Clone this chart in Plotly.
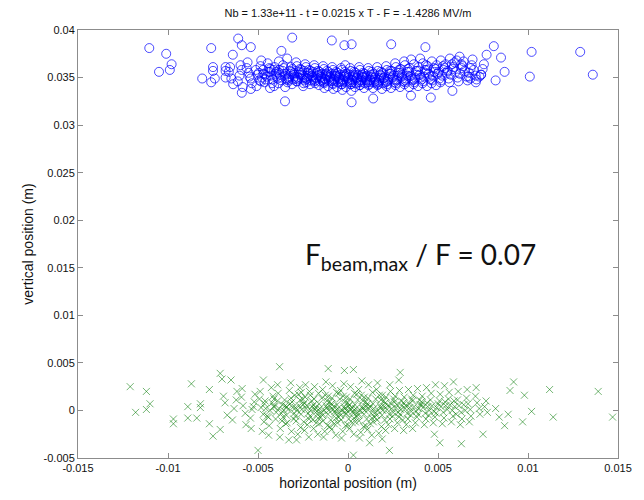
import plotly.graph_objects as go

title_text = "Nb = 1.33e+11 - t = 0.0215 x T - F = -1.4286 MV/m"
x_label = "horizontal position (m)"
y_label = "vertical position (m)"
ratio_text = "F<sub>beam,max</sub> / F = 0.07"

x_tickvals = [-0.015, -0.01, -0.005, 0, 0.005, 0.01, 0.015]
x_ticktext = ["-0.015", "-0.01", "-0.005", "0", "0.005", "0.01", "0.015"]
y_tickvals = [-0.005, 0, 0.005, 0.01, 0.015, 0.02, 0.025, 0.03, 0.035, 0.04]
y_ticktext = ["-0.005", "0", "0.005", "0.01", "0.015", "0.02", "0.025", "0.03", "0.035", "0.04"]

# upper bunch (blue circles), (x, y) in metres
blue_points = [
    # outliers
    (-0.01104, 0.0381), (-0.0101, 0.0375), (-0.0098, 0.0364), (-0.0099, 0.0358), (-0.0105, 0.0356),
    (-0.0076, 0.0381), (-0.0081, 0.0349), (-0.0076, 0.0345), (-0.0074, 0.0349), (-0.0075, 0.0361),
    (-0.0075, 0.0357), (-0.0068, 0.0361), (-0.0068, 0.0357), (-0.0068, 0.0350), (-0.0064, 0.0374),
    (-0.0061, 0.0391), (-0.0059, 0.0384), (-0.0054, 0.0382), (-0.0059, 0.0334), (-0.0054, 0.0338),
    (-0.0035, 0.0325), (-0.0031, 0.0392), (-0.0037, 0.0378), (-0.0009, 0.0389), (-0.0002, 0.0384),
    (0.0002, 0.0385), (0.0024, 0.0385), (0.0043, 0.0382), (0.0081, 0.0383), (0.0077, 0.0374),
    (0.0085, 0.0371), (0.0087, 0.0356), (0.0082, 0.0347), (0.0102, 0.0377), (0.0101, 0.0351),
    (0.0129, 0.0377), (0.0136, 0.0353), (0.0074, 0.0353), (0.0073, 0.0351), (0.0071, 0.0345),
    (0.0067, 0.0351), (0.0068, 0.0349), (0.0002, 0.0324), (0.0014, 0.0328), (0.0035, 0.0331),
    (0.0046, 0.0329), (0.0058, 0.0336), (0.0062, 0.0372), (0.0063, 0.0364),
    # core
    (-0.00662, 0.0356), (-0.00648, 0.0349), (-0.00655, 0.0361), (-0.00638, 0.0343),
    (-0.00603, 0.0352), (-0.00591, 0.0358), (-0.00612, 0.0346), (-0.00597, 0.0363), (-0.00585, 0.0340),
    (-0.00552, 0.0355), (-0.00541, 0.0349), (-0.00563, 0.0360), (-0.00534, 0.0344), (-0.00558, 0.0366),
    (-0.00547, 0.0351),
    (-0.00503, 0.0353), (-0.00491, 0.0347), (-0.00512, 0.0358), (-0.00486, 0.0362), (-0.00508, 0.0341),
    (-0.00495, 0.0355), (-0.00482, 0.0368),
    (-0.00452, 0.0351), (-0.00441, 0.0356), (-0.00463, 0.0345), (-0.00437, 0.0360), (-0.00458, 0.0348),
    (-0.00446, 0.0365), (-0.00433, 0.0339), (-0.00461, 0.0353),
    (-0.00402, 0.0354), (-0.00391, 0.0349), (-0.00413, 0.0358), (-0.00386, 0.0344), (-0.00408, 0.0361),
    (-0.00396, 0.0351), (-0.00384, 0.0367), (-0.00411, 0.0341), (-0.00399, 0.0356),
    (-0.00352, 0.0352), (-0.00341, 0.0348), (-0.00363, 0.0357), (-0.00336, 0.0345), (-0.00358, 0.0360),
    (-0.00346, 0.0354), (-0.00334, 0.0350), (-0.00361, 0.0363), (-0.00349, 0.0340), (-0.00338, 0.0370),
    (-0.00302, 0.0353), (-0.00291, 0.0349), (-0.00313, 0.0356), (-0.00286, 0.0346), (-0.00308, 0.0359),
    (-0.00296, 0.0351), (-0.00284, 0.0362), (-0.00311, 0.0343), (-0.00299, 0.0355), (-0.00288, 0.0366),
    (-0.00306, 0.0348),
    (-0.00252, 0.0352), (-0.00241, 0.0347), (-0.00263, 0.0355), (-0.00236, 0.0350), (-0.00258, 0.0358),
    (-0.00246, 0.0344), (-0.00234, 0.0361), (-0.00261, 0.0353), (-0.00249, 0.0341), (-0.00238, 0.0364),
    (-0.00256, 0.0349), (-0.00243, 0.0357),
    (-0.00202, 0.0351), (-0.00191, 0.0348), (-0.00213, 0.0354), (-0.00186, 0.0346), (-0.00208, 0.0357),
    (-0.00196, 0.0350), (-0.00184, 0.0360), (-0.00211, 0.0343), (-0.00199, 0.0352), (-0.00188, 0.0363),
    (-0.00206, 0.0347), (-0.00193, 0.0356),
    (-0.00152, 0.0350), (-0.00141, 0.0347), (-0.00163, 0.0353), (-0.00136, 0.0345), (-0.00158, 0.0356),
    (-0.00146, 0.0349), (-0.00134, 0.0359), (-0.00161, 0.0342), (-0.00149, 0.0351), (-0.00138, 0.0362),
    (-0.00156, 0.0346), (-0.00143, 0.0354), (-0.00131, 0.0339),
    (-0.00102, 0.0350), (-0.00091, 0.0346), (-0.00113, 0.0353), (-0.00086, 0.0344), (-0.00108, 0.0356),
    (-0.00096, 0.0348), (-0.00084, 0.0358), (-0.00111, 0.0341), (-0.00099, 0.0351), (-0.00088, 0.0361),
    (-0.00106, 0.0347), (-0.00093, 0.0354), (-0.00081, 0.0338),
    (-0.00052, 0.0349), (-0.00041, 0.0346), (-0.00063, 0.0352), (-0.00036, 0.0343), (-0.00058, 0.0355),
    (-0.00046, 0.0348), (-0.00034, 0.0358), (-0.00061, 0.0340), (-0.00049, 0.0350), (-0.00038, 0.0360),
    (-0.00056, 0.0345), (-0.00043, 0.0353), (-0.00031, 0.0337),
    (-0.00002, 0.0349), (0.00009, 0.0345), (-0.00013, 0.0352), (0.00014, 0.0343), (-0.00008, 0.0354),
    (0.00004, 0.0347), (0.00016, 0.0357), (-0.00011, 0.0340), (0.00001, 0.0350), (0.00012, 0.0360),
    (-0.00006, 0.0346), (0.00007, 0.0353), (0.00019, 0.0336), (-0.00015, 0.0363),
    (0.00048, 0.0349), (0.00059, 0.0345), (0.00037, 0.0352), (0.00064, 0.0342), (0.00042, 0.0355),
    (0.00054, 0.0347), (0.00066, 0.0358), (0.00039, 0.0340), (0.00051, 0.0350), (0.00062, 0.0361),
    (0.00044, 0.0344), (0.00057, 0.0353),
    (0.00098, 0.0348), (0.00109, 0.0345), (0.00087, 0.0351), (0.00114, 0.0342), (0.00092, 0.0354),
    (0.00104, 0.0347), (0.00116, 0.0357), (0.00089, 0.0339), (0.00101, 0.0350), (0.00112, 0.0360),
    (0.00094, 0.0344), (0.00107, 0.0352),
    (0.00148, 0.0348), (0.00159, 0.0344), (0.00137, 0.0351), (0.00164, 0.0342), (0.00142, 0.0354),
    (0.00154, 0.0346), (0.00166, 0.0357), (0.00139, 0.0339), (0.00151, 0.0350), (0.00162, 0.0361),
    (0.00144, 0.0345),
    (0.00198, 0.0349), (0.00209, 0.0345), (0.00187, 0.0352), (0.00214, 0.0341), (0.00192, 0.0355),
    (0.00204, 0.0347), (0.00216, 0.0358), (0.00189, 0.0338), (0.00201, 0.0350), (0.00212, 0.0362),
    (0.00194, 0.0344),
    (0.00248, 0.0350), (0.00259, 0.0345), (0.00237, 0.0354), (0.00264, 0.0342), (0.00242, 0.0357),
    (0.00254, 0.0348), (0.00266, 0.0361), (0.00239, 0.0339), (0.00251, 0.0352), (0.00262, 0.0365),
    (0.00298, 0.0351), (0.00309, 0.0346), (0.00287, 0.0355), (0.00314, 0.0343), (0.00292, 0.0359),
    (0.00304, 0.0349), (0.00316, 0.0363), (0.00289, 0.0340), (0.00301, 0.0353), (0.00312, 0.0367),
    (0.00348, 0.0352), (0.00359, 0.0347), (0.00337, 0.0356), (0.00364, 0.0343), (0.00342, 0.0360),
    (0.00354, 0.0349), (0.00366, 0.0364), (0.00339, 0.0340), (0.00351, 0.0369),
    (0.00398, 0.0353), (0.00409, 0.0348), (0.00387, 0.0357), (0.00414, 0.0344), (0.00392, 0.0361),
    (0.00404, 0.0350), (0.00416, 0.0365), (0.00389, 0.0341), (0.00401, 0.0370),
    (0.00448, 0.0354), (0.00459, 0.0348), (0.00437, 0.0358), (0.00464, 0.0344), (0.00442, 0.0362),
    (0.00454, 0.0351), (0.00466, 0.0367), (0.00439, 0.0341),
    (0.00498, 0.0354), (0.00509, 0.0349), (0.00487, 0.0359), (0.00514, 0.0345), (0.00492, 0.0363),
    (0.00504, 0.0356), (0.00516, 0.0368), (0.00489, 0.0342),
    (0.00548, 0.0355), (0.00559, 0.0349), (0.00537, 0.0360), (0.00564, 0.0345), (0.00542, 0.0364),
    (0.00554, 0.0357), (0.00566, 0.0370),
    (0.00598, 0.0356), (0.00609, 0.0350), (0.00587, 0.0361), (0.00614, 0.0346), (0.00592, 0.0366),
    (0.00604, 0.0368),
    (0.00648, 0.0357), (0.00659, 0.0351), (0.00637, 0.0362), (0.00664, 0.0347), (0.00642, 0.0367),
    (0.00698, 0.0358), (0.00709, 0.0352), (0.00687, 0.0363), (0.00714, 0.0348), (0.00692, 0.0369),
    (0.00748, 0.0359), (0.00739, 0.0353), (0.00755, 0.0364),
    # dense centre
    (-0.00478, 0.0350), (-0.00469, 0.0354), (-0.00483, 0.0346), (-0.00472, 0.0358),
    (-0.00428, 0.0352), (-0.00419, 0.0348), (-0.00433, 0.0356), (-0.00422, 0.0344), (-0.00431, 0.0359),
    (-0.00378, 0.0353), (-0.00369, 0.0347), (-0.00383, 0.0355), (-0.00372, 0.0350), (-0.00381, 0.0358),
    (-0.00328, 0.0351), (-0.00319, 0.0354), (-0.00333, 0.0347), (-0.00322, 0.0357), (-0.00331, 0.0349),
    (-0.00317, 0.0361),
    (-0.00278, 0.0350), (-0.00269, 0.0353), (-0.00283, 0.0346), (-0.00272, 0.0356), (-0.00281, 0.0348),
    (-0.00267, 0.0359),
    (-0.00228, 0.0349), (-0.00219, 0.0352), (-0.00233, 0.0345), (-0.00222, 0.0355), (-0.00231, 0.0348),
    (-0.00217, 0.0358), (-0.00226, 0.0351),
    (-0.00178, 0.0349), (-0.00169, 0.0352), (-0.00183, 0.0344), (-0.00172, 0.0355), (-0.00181, 0.0347),
    (-0.00167, 0.0357), (-0.00176, 0.0350),
    (-0.00128, 0.0348), (-0.00119, 0.0351), (-0.00133, 0.0344), (-0.00122, 0.0354), (-0.00131, 0.0346),
    (-0.00117, 0.0357), (-0.00126, 0.0349), (-0.00121, 0.0352),
    (-0.00078, 0.0348), (-0.00069, 0.0351), (-0.00083, 0.0343), (-0.00072, 0.0354), (-0.00081, 0.0346),
    (-0.00067, 0.0356), (-0.00076, 0.0349), (-0.00071, 0.0352),
    (-0.00028, 0.0347), (-0.00019, 0.0351), (-0.00033, 0.0343), (-0.00022, 0.0353), (-0.00031, 0.0345),
    (-0.00017, 0.0356), (-0.00026, 0.0348), (-0.00021, 0.0351),
    (0.00022, 0.0347), (0.00031, 0.0350), (0.00017, 0.0343), (0.00028, 0.0353), (0.00019, 0.0345),
    (0.00033, 0.0356), (0.00024, 0.0348), (0.00029, 0.0351),
    (0.00072, 0.0347), (0.00081, 0.0350), (0.00067, 0.0342), (0.00078, 0.0353), (0.00069, 0.0345),
    (0.00083, 0.0355), (0.00074, 0.0348), (0.00079, 0.0351),
    (0.00122, 0.0347), (0.00131, 0.0350), (0.00117, 0.0343), (0.00128, 0.0353), (0.00119, 0.0345),
    (0.00133, 0.0356), (0.00124, 0.0348),
    (0.00172, 0.0347), (0.00181, 0.0350), (0.00167, 0.0343), (0.00178, 0.0353), (0.00169, 0.0345),
    (0.00183, 0.0356), (0.00174, 0.0349),
    (0.00222, 0.0348), (0.00231, 0.0351), (0.00217, 0.0343), (0.00228, 0.0354), (0.00219, 0.0346),
    (0.00233, 0.0357),
    (0.00272, 0.0348), (0.00281, 0.0352), (0.00267, 0.0344), (0.00278, 0.0355), (0.00269, 0.0347),
    (0.00283, 0.0358),
    (0.00322, 0.0349), (0.00331, 0.0352), (0.00317, 0.0345), (0.00328, 0.0356), (0.00319, 0.0347),
    (0.00333, 0.0359),
    (0.00372, 0.0350), (0.00381, 0.0353), (0.00367, 0.0345), (0.00378, 0.0357), (0.00369, 0.0348),
    (0.00422, 0.0351), (0.00431, 0.0355), (0.00417, 0.0346), (0.00428, 0.0358), (0.00433, 0.0363),
    (0.00472, 0.0352), (0.00481, 0.0356), (0.00467, 0.0347), (0.00478, 0.0360),
    (0.00522, 0.0352), (0.00531, 0.0358), (0.00517, 0.0347), (0.00528, 0.0362),
    (0.00572, 0.0353), (0.00581, 0.0359), (0.00577, 0.0364),
    (0.00622, 0.0354), (0.00631, 0.0360),
    (0.00672, 0.0355), (0.00681, 0.0360),
]

# lower bunch (green crosses), (x, y) in metres
green_points = [
    # outliers
    (-0.0121, 0.0025), (-0.0112, 0.0020), (-0.0110, 0.0007), (-0.0118, -0.0002), (-0.0112, 0.0001),
    (-0.0097, -0.0009), (-0.0097, -0.0014), (-0.0089, -0.0008), (-0.0089, 0.0004), (-0.0087, 0.0028),
    (-0.0084, -0.0008), (-0.0082, 0.0007), (-0.0082, 0.0003), (-0.0077, 0.0022), (-0.0077, -0.0014),
    (-0.0075, -0.0027), (-0.0071, -0.0020), (-0.0071, 0.0039), (-0.0070, 0.0033), (-0.0065, 0.0032),
    (-0.0050, -0.0042), (-0.0047, 0.0032), (-0.0038, 0.0046), (-0.0011, 0.0044), (-0.0002, 0.0042),
    (0.0003, 0.0043), (0.0029, 0.0040), (0.0003, -0.0047), (0.0023, -0.0042), (0.0092, 0.0030),
    (0.0090, 0.0021), (0.0098, 0.0016), (0.0112, 0.0022), (0.0139, 0.0020), (0.0147, -0.0007),
    (0.0114, -0.0007), (0.0102, -0.0001), (0.0097, -0.0012), (0.0089, -0.0004), (0.0087, -0.0016),
    (0.0084, -0.0007), (0.0082, 0.0002), (0.0075, -0.0025), (0.0063, -0.0035), (0.0051, -0.0034),
    (0.0048, -0.0025), (0.0012, -0.0034), (0.0019, -0.0030),
    # core
    (-0.00683, 0.0008), (-0.00671, -0.0005), (-0.00692, 0.0015),
    (-0.00633, 0.0002), (-0.00621, 0.0011), (-0.00642, -0.0010), (-0.00617, 0.0020),
    (-0.00583, 0.0005), (-0.00571, -0.0003), (-0.00592, 0.0014), (-0.00567, -0.0015), (-0.00588, 0.0023),
    (-0.00533, 0.0001), (-0.00521, 0.0009), (-0.00542, -0.0008), (-0.00517, 0.0017), (-0.00538, -0.0019),
    (-0.00526, 0.0004),
    (-0.00483, 0.0003), (-0.00471, -0.0004), (-0.00492, 0.0012), (-0.00467, -0.0012), (-0.00488, 0.0020),
    (-0.00476, -0.0022), (-0.00464, 0.0007),
    (-0.00433, 0.0000), (-0.00421, 0.0008), (-0.00442, -0.0007), (-0.00417, 0.0015), (-0.00438, -0.0016),
    (-0.00426, 0.0024), (-0.00414, 0.0004), (-0.00441, -0.0026),
    (-0.00383, 0.0002), (-0.00371, -0.0003), (-0.00392, 0.0010), (-0.00367, -0.0011), (-0.00388, 0.0018),
    (-0.00376, -0.0019), (-0.00364, 0.0006), (-0.00391, 0.0027), (-0.00379, -0.0028),
    (-0.00333, 0.0001), (-0.00321, 0.0007), (-0.00342, -0.0005), (-0.00317, 0.0013), (-0.00338, -0.0013),
    (-0.00326, 0.0021), (-0.00314, -0.0022), (-0.00341, 0.0004), (-0.00329, -0.0031), (-0.00318, 0.0029),
    (-0.00283, 0.0000), (-0.00271, 0.0005), (-0.00292, -0.0006), (-0.00267, 0.0011), (-0.00288, -0.0011),
    (-0.00276, 0.0017), (-0.00264, -0.0018), (-0.00291, 0.0003), (-0.00279, -0.0025), (-0.00268, 0.0024),
    (-0.00286, -0.0031),
    (-0.00233, 0.0002), (-0.00221, -0.0003), (-0.00242, 0.0008), (-0.00217, -0.0009), (-0.00238, 0.0014),
    (-0.00226, -0.0015), (-0.00214, 0.0020), (-0.00241, -0.0021), (-0.00229, 0.0005), (-0.00218, -0.0028),
    (-0.00236, 0.0027),
    (-0.00183, 0.0001), (-0.00171, -0.0004), (-0.00192, 0.0006), (-0.00167, -0.0008), (-0.00188, 0.0012),
    (-0.00176, -0.0013), (-0.00164, 0.0018), (-0.00191, -0.0019), (-0.00179, 0.0003), (-0.00168, -0.0025),
    (-0.00186, 0.0025), (-0.00173, -0.0001),
    (-0.00133, 0.0000), (-0.00121, 0.0005), (-0.00142, -0.0005), (-0.00117, 0.0010), (-0.00138, -0.0011),
    (-0.00126, 0.0016), (-0.00114, -0.0016), (-0.00141, 0.0022), (-0.00129, -0.0022), (-0.00118, 0.0003),
    (-0.00136, -0.0028), (-0.00123, 0.0030),
    (-0.00083, 0.0001), (-0.00071, -0.0003), (-0.00092, 0.0007), (-0.00067, -0.0008), (-0.00088, 0.0013),
    (-0.00076, -0.0014), (-0.00064, 0.0019), (-0.00091, -0.0020), (-0.00079, 0.0004), (-0.00068, -0.0026),
    (-0.00086, 0.0026), (-0.00073, -0.0001),
    (-0.00033, 0.0000), (-0.00021, 0.0004), (-0.00042, -0.0005), (-0.00017, 0.0009), (-0.00038, -0.0010),
    (-0.00026, 0.0015), (-0.00014, -0.0016), (-0.00041, 0.0021), (-0.00029, -0.0022), (-0.00018, 0.0002),
    (-0.00036, -0.0029), (-0.00023, 0.0028), (-0.00011, -0.0003),
    (0.00017, 0.0001), (0.00029, -0.0003), (0.00008, 0.0006), (0.00033, -0.0008), (0.00012, 0.0012),
    (0.00024, -0.0013), (0.00036, 0.0018), (0.00009, -0.0019), (0.00021, 0.0003), (0.00032, -0.0025),
    (0.00014, 0.0025), (0.00027, -0.0001),
    (0.00067, 0.0000), (0.00079, 0.0004), (0.00058, -0.0005), (0.00083, 0.0010), (0.00062, -0.0011),
    (0.00074, 0.0016), (0.00086, -0.0017), (0.00059, 0.0022), (0.00071, -0.0023), (0.00082, 0.0002),
    (0.00064, -0.0029), (0.00077, 0.0031),
    (0.00117, 0.0002), (0.00129, -0.0003), (0.00108, 0.0007), (0.00133, -0.0008), (0.00112, 0.0013),
    (0.00124, -0.0014), (0.00136, 0.0019), (0.00109, -0.0020), (0.00121, 0.0004), (0.00132, -0.0026),
    (0.00114, 0.0027),
    (0.00167, 0.0000), (0.00179, 0.0005), (0.00158, -0.0005), (0.00183, 0.0011), (0.00162, -0.0010),
    (0.00174, 0.0016), (0.00186, -0.0017), (0.00159, 0.0022), (0.00171, -0.0024), (0.00182, 0.0003),
    (0.00164, 0.0029),
    (0.00217, 0.0001), (0.00229, -0.0004), (0.00208, 0.0008), (0.00233, -0.0009), (0.00212, 0.0014),
    (0.00224, -0.0015), (0.00236, 0.0020), (0.00209, -0.0021), (0.00221, 0.0005), (0.00232, 0.0027),
    (0.00267, 0.0003), (0.00279, -0.0002), (0.00258, 0.0009), (0.00283, -0.0007), (0.00262, 0.0015),
    (0.00274, -0.0013), (0.00286, 0.0021), (0.00259, -0.0019), (0.00271, 0.0006), (0.00282, 0.0032),
    (0.00317, 0.0002), (0.00329, -0.0003), (0.00308, 0.0008), (0.00333, -0.0009), (0.00312, 0.0014),
    (0.00324, -0.0015), (0.00336, 0.0022), (0.00309, -0.0021), (0.00321, 0.0005),
    (0.00367, 0.0004), (0.00379, -0.0001), (0.00358, 0.0010), (0.00383, -0.0007), (0.00362, 0.0016),
    (0.00374, -0.0013), (0.00386, 0.0023), (0.00359, -0.0019),
    (0.00417, 0.0003), (0.00429, -0.0003), (0.00408, 0.0009), (0.00433, -0.0009), (0.00412, 0.0015),
    (0.00424, -0.0015), (0.00436, 0.0024), (0.00409, 0.0006),
    (0.00467, 0.0005), (0.00479, -0.0001), (0.00458, 0.0011), (0.00483, -0.0007), (0.00462, 0.0018),
    (0.00474, -0.0013), (0.00486, 0.0027),
    (0.00517, 0.0004), (0.00529, -0.0002), (0.00508, 0.0010), (0.00533, -0.0008), (0.00512, 0.0017),
    (0.00524, -0.0014), (0.00536, 0.0026),
    (0.00567, 0.0006), (0.00579, 0.0000), (0.00558, 0.0012), (0.00583, -0.0006), (0.00562, 0.0019),
    (0.00574, -0.0012), (0.00586, 0.0030),
    (0.00617, 0.0005), (0.00629, -0.0002), (0.00608, 0.0011), (0.00633, -0.0009), (0.00612, 0.0020),
    (0.00624, -0.0015),
    (0.00667, 0.0007), (0.00679, 0.0001), (0.00658, 0.0013), (0.00683, -0.0006), (0.00662, 0.0022),
    (0.00674, -0.0012),
    (0.00717, 0.0008), (0.00729, 0.0002), (0.00708, 0.0015), (0.00733, -0.0004), (0.00712, 0.0024),
    (0.00767, 0.0010), (0.00759, 0.0004), (0.00774, -0.0002),
    # dense centre
    (-0.00457, 0.0002), (-0.00449, -0.0006), (-0.00461, 0.0010),
    (-0.00407, 0.0004), (-0.00399, -0.0002), (-0.00411, 0.0012), (-0.00402, -0.0009),
    (-0.00357, 0.0000), (-0.00349, 0.0005), (-0.00361, -0.0007), (-0.00352, 0.0011), (-0.00346, -0.0014),
    (-0.00307, 0.0003), (-0.00299, -0.0003), (-0.00311, 0.0009), (-0.00302, -0.0009), (-0.00296, 0.0016),
    (-0.00257, 0.0001), (-0.00249, 0.0006), (-0.00261, -0.0004), (-0.00252, 0.0012), (-0.00246, -0.0012),
    (-0.00259, 0.0019),
    (-0.00207, 0.0000), (-0.00199, 0.0004), (-0.00211, -0.0006), (-0.00202, 0.0010), (-0.00196, -0.0010),
    (-0.00209, 0.0016),
    (-0.00157, 0.0002), (-0.00149, -0.0002), (-0.00161, 0.0007), (-0.00152, -0.0007), (-0.00146, 0.0013),
    (-0.00159, -0.0014),
    (-0.00107, 0.0000), (-0.00099, 0.0004), (-0.00111, -0.0004), (-0.00102, 0.0009), (-0.00096, -0.0010),
    (-0.00109, 0.0015), (-0.00101, -0.0017),
    (-0.00057, 0.0002), (-0.00049, -0.0002), (-0.00061, 0.0006), (-0.00052, -0.0007), (-0.00046, 0.0012),
    (-0.00059, -0.0013), (-0.00051, 0.0018),
    (-0.00007, 0.0000), (0.00001, 0.0004), (-0.00011, -0.0004), (-0.00002, 0.0008), (0.00004, -0.0009),
    (-0.00009, 0.0014), (-0.00001, -0.0015),
    (0.00043, 0.0002), (0.00051, -0.0002), (0.00039, 0.0006), (0.00048, -0.0006), (0.00054, 0.0011),
    (0.00041, -0.0012), (0.00049, 0.0017),
    (0.00093, 0.0000), (0.00101, 0.0004), (0.00089, -0.0004), (0.00098, 0.0009), (0.00104, -0.0009),
    (0.00091, 0.0014), (0.00099, -0.0016),
    (0.00143, 0.0002), (0.00151, -0.0002), (0.00139, 0.0007), (0.00148, -0.0007), (0.00154, 0.0012),
    (0.00141, -0.0012),
    (0.00193, 0.0000), (0.00201, 0.0004), (0.00189, -0.0005), (0.00198, 0.0010), (0.00204, -0.0010),
    (0.00191, 0.0016),
    (0.00243, 0.0002), (0.00251, -0.0002), (0.00239, 0.0007), (0.00248, -0.0006), (0.00254, 0.0012),
    (0.00293, 0.0001), (0.00301, 0.0005), (0.00289, -0.0004), (0.00298, 0.0010), (0.00304, -0.0010),
    (0.00343, 0.0003), (0.00351, -0.0001), (0.00339, 0.0007), (0.00348, -0.0005), (0.00354, 0.0012),
    (0.00393, 0.0002), (0.00401, 0.0006), (0.00389, -0.0004), (0.00398, 0.0011),
    (0.00443, 0.0004), (0.00451, 0.0000), (0.00439, 0.0008), (0.00448, -0.0005),
    (0.00493, 0.0003), (0.00501, 0.0007), (0.00489, -0.0003),
    (0.00543, 0.0005), (0.00551, 0.0001), (0.00539, 0.0009),
    (0.00593, 0.0004), (0.00601, -0.0004), (0.00589, 0.0010),
    (0.00643, 0.0006), (0.00651, 0.0000),
]

blue_x = [p[0] for p in blue_points]
blue_y = [p[1] for p in blue_points]
green_x = [p[0] for p in green_points]
green_y = [p[1] for p in green_points]

fig = go.Figure()
fig.add_trace(go.Scatter(
    x=blue_x, y=blue_y, mode="markers",
    marker=dict(symbol="circle-open", size=9, color="rgba(0,0,255,0.7)",
                line=dict(width=1, color="rgba(0,0,255,0.7)")),
    showlegend=False, hoverinfo="skip",
))
fig.add_trace(go.Scatter(
    x=green_x, y=green_y, mode="markers",
    marker=dict(symbol="x-thin-open", size=7, color="rgba(0,120,0,0.55)",
                line=dict(width=1, color="rgba(0,120,0,0.55)")),
    showlegend=False, hoverinfo="skip",
))

axis_common = dict(
    showline=True, linecolor="#8c8c8c", linewidth=1, mirror="ticks",
    ticks="inside", ticklen=5, tickcolor="#8c8c8c",
    showgrid=False, zeroline=False,
    tickfont=dict(family="Liberation Sans, Arial", size=11, color="#111"),
)

fig.update_layout(
    width=644, height=500,
    margin=dict(l=78, r=20, t=30, b=38),
    paper_bgcolor="white", plot_bgcolor="white",
    title=dict(text=title_text, x=0.5, xref="paper", y=1 - 13 / 500, yref="container",
               xanchor="center", yanchor="middle",
               font=dict(family="Liberation Sans, Arial", size=11, color="#111")),
    xaxis=dict(range=[-0.015, 0.015], tickvals=x_tickvals, ticktext=x_ticktext,
               title=dict(text=x_label, standoff=4,
                          font=dict(family="Liberation Sans, Arial", size=14, color="#111")),
               **axis_common),
    yaxis=dict(range=[-0.005, 0.04], tickvals=y_tickvals, ticktext=y_ticktext,
               title=dict(text=y_label, standoff=6,
                          font=dict(family="Liberation Sans, Arial", size=14, color="#111")),
               **axis_common),
    annotations=[dict(
        text=ratio_text, xref="paper", yref="paper", x=0.634, y=0.472,
        xanchor="center", yanchor="middle", showarrow=False,
        font=dict(family="Lato, Open Sans", size=28, color="#111"),
    )],
)

fig.write_html("out.html")
